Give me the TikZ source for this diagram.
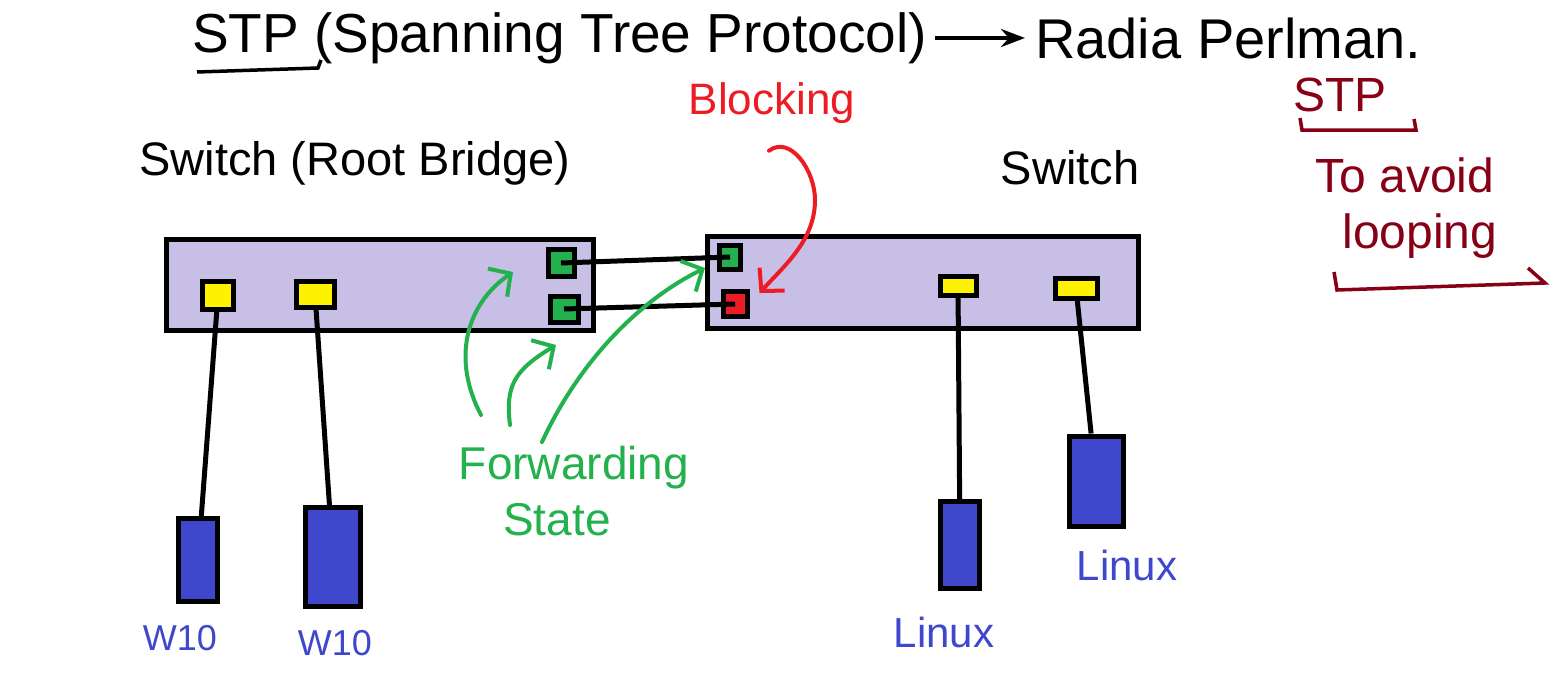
\documentclass[tikz,border=0pt]{standalone}
\usepackage{fontspec}
\setmainfont{Liberation Sans}
\usetikzlibrary{arrows.meta,positioning}
\tikzset{>=Stealth}
\definecolor{lav}{HTML}{C8BFE7}
\definecolor{pgreen}{HTML}{22B14C}
\definecolor{pred}{HTML}{ED1C24}
\definecolor{pyellow}{HTML}{FFF200}
\definecolor{pblue}{HTML}{3F48CC}
\definecolor{wine}{HTML}{880015}
\tikzset{
  switchbox/.style={draw,line width=5pt,fill=lav,inner sep=0pt,
    minimum width=427pt,minimum height=91pt},
  port/.style={draw,line width=5pt,fill=#1,inner sep=0pt},
  host/.style={draw,line width=5pt,fill=pblue,inner sep=0pt},
  cable/.style={line width=5pt},
  hand/.style={font=\fontsize{#1}{#1}\selectfont,inner sep=0pt},
  note/.style={line width=4pt,line cap=round,
    -{Straight Barb[length=16pt,width=34pt,line width=4pt]}}
}

\begin{document}
\begin{tikzpicture}[x=1pt,y=-1pt]
\useasboundingbox[fill=white] (0,0) rectangle (1562,693);

% title line
\node[hand=55,anchor=west] (title) at (192,38) {STP (Spanning Tree Protocol)};
\node[hand=56,anchor=west] (radia) at (1035,38) {Radia Perlman.};
\draw[line width=4pt,-{Stealth[length=24pt,width=18pt]}] (title.east) ++(8,0) coordinate (ta)
  -- (radia.west -| 1025,0);
\draw[line width=3.5pt] (197,72) -- (318,68) -- (321,60);

% the two switches
\node[hand=47] (rootlbl) at (355,163) {Switch (Root Bridge)};
\node[hand=47] (swlbl) at (1070,168) {Switch};
\node[switchbox] (sw1) at (380,285) {};
\node[switchbox,minimum width=431pt,minimum height=92pt] (sw2) at (923,282) {};

% ports
\node[port=pyellow,minimum width=31pt,minimum height=28pt] (y1) at (218,295) {};
\node[port=pyellow,minimum width=38pt,minimum height=26pt] (y2) at (315,294) {};
\node[port=pgreen,minimum width=26pt,minimum height=27pt] (g1) at (561,263) {};
\node[port=pgreen,minimum width=28pt,minimum height=26pt] (g2) at (564,309) {};
\node[port=pgreen,minimum width=21pt,minimum height=24pt] (g3) at (730,257) {};
\node[port=pred,minimum width=24pt,minimum height=25pt] (r1) at (735,304) {};
\node[port=pyellow,minimum width=36pt,minimum height=19pt] (y3) at (958,286) {};
\node[port=pyellow,minimum width=42pt,minimum height=20pt] (y4) at (1076,288) {};

% hosts
\node[host,minimum width=39pt,minimum height=83pt] (h1) at (198,560) {};
\node[host,minimum width=55pt,minimum height=99pt] (h2) at (333,557) {};
\node[host,minimum width=39pt,minimum height=87pt] (h3) at (960,545) {};
\node[host,minimum width=54pt,minimum height=90pt] (h4) at (1096,481) {};
\node[hand=36,text=pblue] (w1) at (180,638) {W10};
\node[hand=36,text=pblue] (w2) at (335,643) {W10};
\node[hand=42,text=pblue] (lx1) at (944,632) {Linux};
\node[hand=42,text=pblue] (lx2) at (1127,565) {Linux};

% cables
\draw[cable] (y1) -- (h1);
\draw[cable] (y2) -- (h2);
\draw[cable] (y3) -- (h3);
\draw[cable] (y4) -- (h4);
\draw[cable] (g1.center) -- (g3.center);
\draw[cable] (g2.center) -- (r1.center);

% blocking
\node[hand=44,text=pred] (blk) at (772,103) {Blocking};
\draw[note,pred] (blk.south) ++(-3,27) coordinate (bs)
  .. controls (790,135) and (815,170) .. (815,200)
  .. controls (815,240) and (785,265) .. ([xshift=10pt,yshift=-4pt]r1.north east);

% forwarding state
\node[hand=46,text=pgreen] (fwd) at (574,468) {Forwarding};
\node[hand=46,text=pgreen] (state) at (557,520) {State};
\coordinate (f1) at (481,415);
\coordinate (f2) at (510,425);
\coordinate (f3) at (542,442);
\coordinate (t1) at (513,272);
\coordinate (t2) at (556,345);
\coordinate (t3) at (705,268);
\draw[note,pgreen] (f1) .. controls (452,360) and (465,305) .. (t1);
\draw[note,pgreen] (f2) .. controls (505,385) and (515,370) .. (t2);
\draw[note,pgreen] (f3) .. controls (580,360) and (640,300) .. (t3);

% side note
\node[hand=48,text=wine] (stp) at (1340,95) {STP};
\draw[wine,line width=3.5pt] (1300,118) -- (1302,130) -- (1416,130) -- (1414,119);
\node[hand=48,text=wine] (avoid) at (1405,175) {To avoid};
\node[hand=48,text=wine] (loop) at (1420,236) {looping};
\draw[wine,line width=3.5pt] (1334,272) -- (1337,290) -- (1545,283) -- (1528,268);
\end{tikzpicture}
\end{document}
